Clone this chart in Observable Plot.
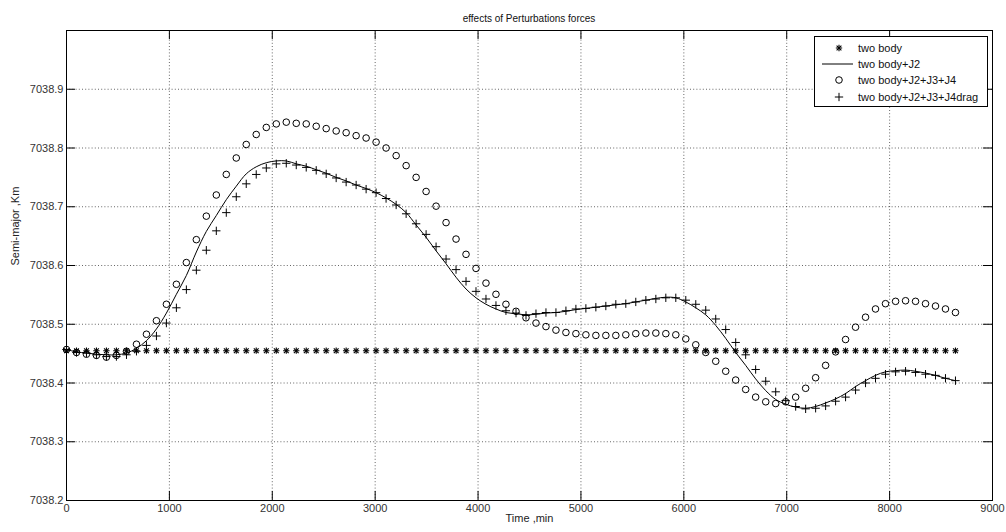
<!DOCTYPE html>
<html>
<head>
<meta charset="utf-8">
<script src="https://cdn.jsdelivr.net/npm/d3@7"></script>
<script src="https://cdn.jsdelivr.net/npm/@observablehq/plot@0.6"></script>
<style>
  html, body { margin: 0; padding: 0; background: #fff; }
  #wrap { position: relative; width: 1006px; height: 532px; overflow: hidden; background: #fff;
          font-family: "Liberation Sans", Arial, sans-serif; }
  #title { position: absolute; left: 66px; width: 926px; top: 14px; height: 10px; line-height: 10px;
           font-size: 10px; text-align: center; color: #111; }
  #chart { position: absolute; left: 0; top: 24px; }
  #legend { position: absolute; left: 814px; top: 36px; width: 172px; height: 69px;
            border: 1px solid #000; background: #fff; font-size: 11px; color: #111; }
  .row { position: absolute; left: 0; height: 16px; width: 172px; }
  .row svg { position: absolute; left: 0; top: 0; }
  .row span { position: absolute; left: 43px; top: 1px; line-height: 14px; white-space: nowrap; }
</style>
</head>
<body>
<div id="wrap">
  <div id="title">effects of Perturbations forces</div>
  <div id="chart"></div>
  <div id="legend"></div>
</div>
<script>
// ---- data ----
const titleText = "effects of Perturbations forces";
const xLabel = "Time ,min";
const yLabel = "Semi-major ,Km";
const seriesNames = ["two body", "two body+J2", "two body+J2+J3+J4", "two body+J2+J3+J4drag"];
const xTicks = [0, 1000, 2000, 3000, 4000, 5000, 6000, 7000, 8000, 9000];
const yTicks = [7038.2, 7038.3, 7038.4, 7038.5, 7038.6, 7038.7, 7038.8, 7038.9];

const timeMin = [0,97,194,291,388,485,583,680,777,874,
  971,1068,1165,1262,1359,1456,1553,1650,1747,1844,
  1942,2039,2136,2233,2330,2427,2524,2621,2718,2815,
  2912,3009,3106,3204,3301,3398,3495,3592,3689,3786,
  3883,3980,4077,4174,4271,4369,4466,4563,4660,4757,
  4854,4951,5048,5145,5242,5339,5436,5533,5631,5728,
  5825,5922,6019,6116,6213,6310,6407,6504,6601,6698,
  6796,6893,6990,7087,7184,7281,7378,7475,7572,7669,
  7766,7863,7960,8058,8155,8252,8349,8446,8543,8640];

const twoBody = [7038.455,7038.455,7038.455,7038.455,7038.455,7038.455,7038.455,7038.455,7038.455,7038.455,
  7038.455,7038.455,7038.455,7038.455,7038.455,7038.455,7038.455,7038.455,7038.455,7038.455,
  7038.455,7038.455,7038.455,7038.455,7038.455,7038.455,7038.455,7038.455,7038.455,7038.455,
  7038.455,7038.455,7038.455,7038.455,7038.455,7038.455,7038.455,7038.455,7038.455,7038.455,
  7038.455,7038.455,7038.455,7038.455,7038.455,7038.455,7038.455,7038.455,7038.455,7038.455,
  7038.455,7038.455,7038.455,7038.455,7038.455,7038.455,7038.455,7038.455,7038.455,7038.455,
  7038.455,7038.455,7038.455,7038.455,7038.455,7038.455,7038.455,7038.455,7038.455,7038.455,
  7038.455,7038.455,7038.455,7038.455,7038.455,7038.455,7038.455,7038.455,7038.455,7038.455,
  7038.455,7038.455,7038.455,7038.455,7038.455,7038.455,7038.455,7038.455,7038.455,7038.455];

const withJ2 = [7038.457,7038.453,7038.451,7038.449,7038.448,7038.448,7038.451,7038.459,7038.472,7038.492,
  7038.519,7038.551,7038.583,7038.623,7038.658,7038.685,7038.712,7038.735,7038.756,7038.768,
  7038.775,7038.778,7038.778,7038.773,7038.769,7038.763,7038.757,7038.750,7038.744,7038.737,
  7038.731,7038.724,7038.715,7038.704,7038.690,7038.669,7038.648,7038.625,7038.603,7038.580,
  7038.560,7038.545,7038.534,7038.526,7038.520,7038.518,7038.516,7038.517,7038.519,7038.520,
  7038.522,7038.525,7038.527,7038.529,7038.531,7038.533,7038.535,7038.538,7038.541,7038.544,
  7038.546,7038.545,7038.538,7038.528,7038.516,7038.498,7038.476,7038.452,7038.430,7038.407,
  7038.387,7038.372,7038.364,7038.359,7038.357,7038.360,7038.366,7038.373,7038.382,7038.394,
  7038.404,7038.413,7038.419,7038.421,7038.422,7038.420,7038.417,7038.413,7038.408,7038.404];

const withJ234 = [7038.457,7038.452,7038.449,7038.447,7038.444,7038.447,7038.454,7038.466,7038.483,7038.506,
  7038.534,7038.568,7038.605,7038.644,7038.684,7038.720,7038.755,7038.783,7038.806,7038.823,
  7038.835,7038.841,7038.844,7038.842,7038.841,7038.837,7038.833,7038.829,7038.826,7038.821,
  7038.817,7038.810,7038.800,7038.787,7038.770,7038.750,7038.726,7038.701,7038.673,7038.645,
  7038.619,7038.595,7038.570,7038.551,7038.534,7038.522,7038.511,7038.502,7038.496,7038.490,
  7038.486,7038.484,7038.482,7038.481,7038.481,7038.481,7038.482,7038.484,7038.485,7038.485,
  7038.484,7038.482,7038.475,7038.465,7038.452,7038.437,7038.420,7038.405,7038.389,7038.376,
  7038.368,7038.365,7038.368,7038.376,7038.391,7038.409,7038.430,7038.453,7038.474,7038.495,
  7038.512,7038.526,7038.535,7038.539,7038.540,7038.539,7038.535,7038.531,7038.526,7038.520];

const withDrag = [7038.457,7038.452,7038.451,7038.448,7038.445,7038.445,7038.448,7038.454,7038.464,7038.480,
  7038.502,7038.528,7038.559,7038.592,7038.626,7038.659,7038.690,7038.717,7038.739,7038.755,
  7038.766,7038.773,7038.774,7038.771,7038.767,7038.762,7038.756,7038.749,7038.742,7038.737,
  7038.730,7038.724,7038.714,7038.703,7038.688,7038.671,7038.653,7038.632,7038.611,7038.593,
  7038.573,7038.556,7038.543,7038.532,7038.523,7038.519,7038.515,7038.518,7038.520,7038.520,
  7038.523,7038.526,7038.527,7038.529,7038.531,7038.534,7038.535,7038.538,7038.541,7038.543,
  7038.545,7038.545,7038.541,7038.534,7038.524,7038.509,7038.491,7038.469,7038.448,7038.423,
  7038.403,7038.385,7038.370,7038.360,7038.356,7038.357,7038.361,7038.369,7038.376,7038.388,
  7038.400,7038.408,7038.415,7038.419,7038.420,7038.418,7038.415,7038.413,7038.408,7038.404];

// ---- build tables ----
const rows = timeMin.map((t, i) => ({
  t, twoBody: twoBody[i], j2: withJ2[i], j234: withJ234[i], drag: withDrag[i]
}));

const W = 1006, H = 508;
const mL = 66, mR = 14, mT = 6, mB = 32;
const plotW = W - mL - mR, plotH = H - mT - mB;
const tickLen = 9;
const gridStyle = {stroke: "#000", strokeOpacity: 0.6, strokeWidth: 1, strokeDasharray: "1,2.2"};

const chart = Plot.plot({
  width: W, height: H,
  marginLeft: mL, marginRight: mR, marginTop: mT, marginBottom: mB,
  x: {domain: [0, 9000]},
  y: {domain: [7038.2, 7039.0]},
  style: {fontFamily: "'Liberation Sans', Arial, sans-serif", fontSize: "11px", background: "#fff", color: "#222"},
  marks: [
    Plot.gridX(xTicks, gridStyle),
    Plot.gridY(yTicks, gridStyle),
    Plot.axisX(xTicks, {tickSize: 0, tickPadding: 4, tickFormat: d => String(d), label: null, fill: "#333"}),
    Plot.axisY(yTicks, {tickSize: 0, tickPadding: 3, tickFormat: d => d.toFixed(1), label: null, fill: "#333"}),
    // inward tick marks on all four sides (box on)
    Plot.tickY(yTicks, {y: d => d, insetRight: plotW - tickLen, stroke: "#000"}),
    Plot.tickY(yTicks, {y: d => d, insetLeft: plotW - tickLen, stroke: "#000"}),
    Plot.tickX(xTicks, {x: d => d, insetTop: plotH - tickLen, stroke: "#000"}),
    Plot.tickX(xTicks, {x: d => d, insetBottom: plotH - tickLen, stroke: "#000"}),
    Plot.frame({stroke: "#000", strokeWidth: 1}),
    // two body: Matlab '*' = plus + times
    Plot.dot(rows, {x: "t", y: "twoBody", symbol: "plus", r: 2.2, stroke: "#000", strokeWidth: 1.1}),
    Plot.dot(rows, {x: "t", y: "twoBody", symbol: "times", r: 2.3, stroke: "#000", strokeWidth: 1.1}),
    // two body + J2: solid line
    Plot.line(rows, {x: "t", y: "j2", stroke: "#000", strokeWidth: 1, curve: "catmull-rom"}),
    // two body + J2 + J3 + J4: open circles
    Plot.dot(rows, {x: "t", y: "j234", symbol: "circle", r: 3.3, stroke: "#000", fill: "none", strokeWidth: 1}),
    // with drag: plus
    Plot.dot(rows, {x: "t", y: "drag", symbol: "plus", r: 2.8, stroke: "#000", strokeWidth: 1}),
    // axis titles
    Plot.text([xLabel], {text: d => d, frameAnchor: "bottom", dy: 21, fill: "#222", fontSize: 11}),
    Plot.text([yLabel], {text: d => d, frameAnchor: "left", dx: -51, rotate: -90, fill: "#222", fontSize: 11})
  ]
});
document.getElementById("chart").appendChild(chart);

// ---- legend ----
const legend = d3.select("#legend");
const kinds = ["star", "line", "circle", "plus"];
seriesNames.forEach((name, i) => {
  const row = legend.append("div").attr("class", "row").style("top", (2.7 + 16.3 * i) + "px");
  const svg = row.append("svg").attr("width", 42).attr("height", 16);
  const g = svg.append("g").attr("transform", "translate(24,8)").attr("stroke", "#000").attr("fill", "none");
  const k = kinds[i];
  if (k === "star") {
    g.append("path").attr("d", d3.symbol(d3.symbolPlus, 2.2 * 2.2 * Math.PI)()).attr("stroke-width", 1.1);
    g.append("path").attr("d", d3.symbol(d3.symbolTimes, 2.3 * 2.3 * Math.PI)()).attr("stroke-width", 1.1);
  } else if (k === "line") {
    g.append("line").attr("x1", -17).attr("x2", 14).attr("y1", 0).attr("y2", 0).attr("stroke-width", 1);
  } else if (k === "circle") {
    g.append("circle").attr("r", 3.3).attr("stroke-width", 1);
  } else {
    g.append("path").attr("d", d3.symbol(d3.symbolPlus, 2.8 * 2.8 * Math.PI)()).attr("stroke-width", 1);
  }
  row.append("span").text(name);
});
</script>
</body>
</html>
